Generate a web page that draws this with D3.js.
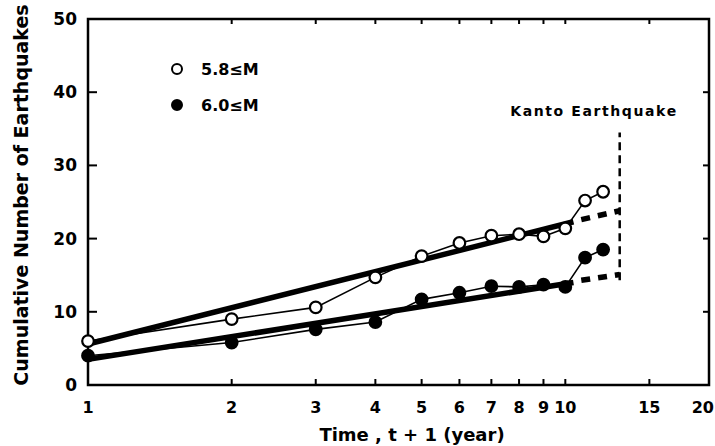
<!DOCTYPE html>
<html>
<head>
<meta charset="utf-8">
<script src="https://cdn.jsdelivr.net/npm/d3@7"></script>
<style>
  body { margin: 0; background: #fff; }
  text { font-family: "DejaVu Sans", sans-serif; font-weight: bold; fill: #000; }
</style>
</head>
<body>
<div id="chart"></div>
<script>
// Chart data
const xTicks = [1, 2, 3, 4, 5, 6, 7, 8, 9, 10, 15, 20];
const yTicks = [0, 10, 20, 30, 40, 50];
const years = [1, 2, 3, 4, 5, 6, 7, 8, 9, 10, 11, 12];
const m58 = [6.0, 9.0, 10.6, 14.7, 17.6, 19.4, 20.4, 20.6, 20.3, 21.4, 25.2, 26.4];
const m60 = [4.0, 5.8, 7.6, 8.6, 11.7, 12.6, 13.5, 13.4, 13.7, 13.4, 17.4, 18.5];
// fitted trend lines (end points) and their extrapolation
const fit58 = [[1, 5.6], [10.4, 22.3]];
const fit58Ext = [[10.8, 22.6], [13, 23.8]];
const fit60 = [[1, 3.5], [10.4, 14.0]];
const fit60Ext = [[10.8, 14.3], [13, 15.1]];
const kanto = [[13, 14.3], [13, 34.5]];

const width = 715, height = 446;
const plotLeft = 88, plotRight = 709, plotTop = 19, plotBottom = 385;

const svg = d3.select('#chart').append('svg')
  .attr('width', width)
  .attr('height', height);

const x = d3.scaleLog().domain([1, 20]).range([plotLeft, plotRight]);
const y = d3.scaleLinear().domain([0, 50]).range([plotBottom, plotTop]);

const line = d3.line().x(d => x(d[0])).y(d => y(d[1]));

// frame
svg.append('rect')
  .attr('x', plotLeft).attr('y', plotTop)
  .attr('width', plotRight - plotLeft).attr('height', plotBottom - plotTop)
  .attr('fill', 'none').attr('stroke', '#000').attr('stroke-width', 2.5);

// inward ticks on all four sides
svg.selectAll('.xt-bottom').data(xTicks).enter().append('line')
  .attr('x1', d => x(d)).attr('x2', d => x(d))
  .attr('y1', plotBottom).attr('y2', plotBottom - 6)
  .attr('stroke', '#000').attr('stroke-width', 2);
svg.selectAll('.xt-top').data(xTicks).enter().append('line')
  .attr('x1', d => x(d)).attr('x2', d => x(d))
  .attr('y1', plotTop).attr('y2', plotTop + 5)
  .attr('stroke', '#000').attr('stroke-width', 2);
svg.selectAll('.yt-left').data(yTicks).enter().append('line')
  .attr('x1', plotLeft).attr('x2', plotLeft + 9)
  .attr('y1', d => y(d)).attr('y2', d => y(d))
  .attr('stroke', '#000').attr('stroke-width', 2);
svg.selectAll('.yt-right').data(yTicks).enter().append('line')
  .attr('x1', plotRight).attr('x2', plotRight - 6)
  .attr('y1', d => y(d)).attr('y2', d => y(d))
  .attr('stroke', '#000').attr('stroke-width', 2);

// tick labels (the last one sits against the right edge)
svg.selectAll('.xl').data(xTicks).enter().append('text')
  .attr('x', d => d === 20 ? x(d) + 5 : x(d)).attr('y', 413)
  .attr('text-anchor', d => d === 20 ? 'end' : 'middle')
  .style('font-size', '16px')
  .text(d => d);
svg.selectAll('.yl').data(yTicks).enter().append('text')
  .attr('x', 77).attr('y', d => y(d) + 6)
  .attr('text-anchor', 'end')
  .style('font-size', '17px')
  .text(d => d);

// axis titles
svg.append('text')
  .attr('x', 412).attr('y', 441)
  .attr('text-anchor', 'middle')
  .style('font-size', '18px')
  .text('Time , t + 1 (year)');
svg.append('text')
  .attr('transform', 'translate(28,195) rotate(-90)')
  .attr('text-anchor', 'middle')
  .style('font-size', '19px')
  .text('Cumulative Number of Earthquakes');

// trend lines
[fit58, fit60].forEach(f => {
  svg.append('path').attr('d', line(f))
    .attr('fill', 'none').attr('stroke', '#000').attr('stroke-width', 5.5);
});
[fit58Ext, fit60Ext].forEach(f => {
  svg.append('path').attr('d', line(f))
    .attr('fill', 'none').attr('stroke', '#000').attr('stroke-width', 5.5)
    .attr('stroke-dasharray', '9,8');
});

// Kanto earthquake marker
svg.append('path').attr('d', line(kanto))
  .attr('fill', 'none').attr('stroke', '#000').attr('stroke-width', 2.5)
  .attr('stroke-dasharray', '8,5');
svg.append('text')
  .attr('x', 594).attr('y', 116)
  .attr('text-anchor', 'middle')
  .style('font-size', '14px')
  .style('letter-spacing', '1.6px')
  .text('Kanto Earthquake');

// data series
const series = [
  { values: m58, fill: '#fff' },
  { values: m60, fill: '#000' }
];
series.forEach(s => {
  const pts = years.map((t, i) => [t, s.values[i]]);
  svg.append('path').attr('d', line(pts))
    .attr('fill', 'none').attr('stroke', '#000').attr('stroke-width', 1.6);
  svg.selectAll(null).data(pts).enter().append('circle')
    .attr('cx', d => x(d[0])).attr('cy', d => y(d[1]))
    .attr('r', 5.8)
    .attr('fill', s.fill).attr('stroke', '#000').attr('stroke-width', 2.2);
});

// legend
const legend = [
  { label: '5.8≤M', fill: '#fff', cy: 69 },
  { label: '6.0≤M', fill: '#000', cy: 105 }
];
legend.forEach(l => {
  svg.append('circle')
    .attr('cx', 177).attr('cy', l.cy).attr('r', 5)
    .attr('fill', l.fill).attr('stroke', '#000').attr('stroke-width', 2);
  svg.append('text')
    .attr('x', 201).attr('y', l.cy + 6)
    .style('font-size', '16px')
    .text(l.label);
});
</script>
</body>
</html>
